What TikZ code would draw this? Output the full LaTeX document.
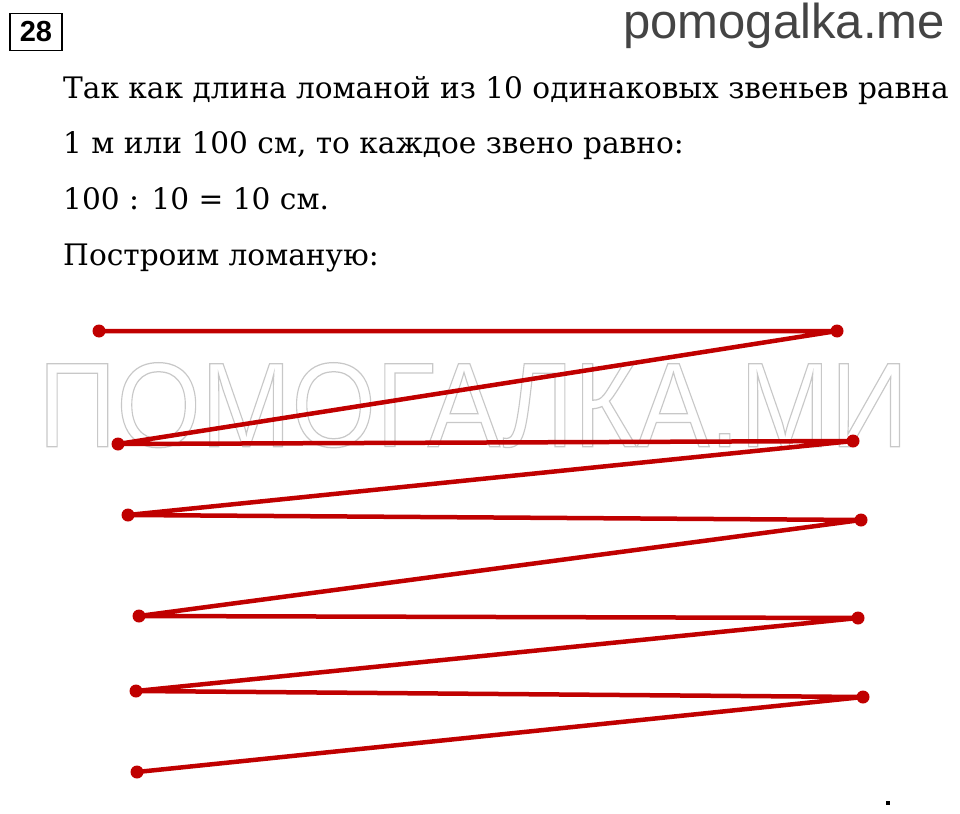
\documentclass[tikz,border=0pt]{standalone}
\usepackage{fontspec}
\usepackage{tikz}
\setmainfont{DejaVu Serif}
\newfontfamily\sitefont{Liberation Sans}
\newfontfamily\numfont{Liberation Sans}
\definecolor{linered}{RGB}{192,0,0}
\definecolor{sitegray}{RGB}{68,68,68}
\definecolor{wmgray}{RGB}{200,200,200}

\begin{document}
\begin{tikzpicture}[x=1pt,y=-1pt,
	txt/.style={anchor=base west, inner sep=0pt, font=\fontsize{29.6}{36}\selectfont},
	dotmark/.style={fill=linered},
	zigzag/.style={draw=linered, line width=4.5, line join=round}]
	%set diagram to 960 x 813
	\useasboundingbox (0,0) rectangle (960,813);
	
	%Box: task number
	\node [draw, line width=1.8, inner sep=2pt, minimum width=52, minimum height=37, font=\numfont\bfseries\fontsize{29}{32}\selectfont] (num) at (36,32) {28};
	% Text Node
	\node [anchor=base east, inner sep=0pt, text=sitegray, font=\sitefont\fontsize{49}{55}\selectfont] (site) at (945,39) {pomogalka.me};
	
	% Text Nodes
	\node [txt] (l1) at (63,99) {Так как длина ломаной из 10 одинаковых звеньев равна};
	\node [txt] (l2) at (63,154) {1 м или 100 см, то каждое звено равно:};
	\node [txt] (l3) at (63,209) {100 : 10 = 10 см.};
	\node [txt] (l4) at (63,265) {Построим ломаную:};
	
	%Watermark
	\node [anchor=south west, inner sep=0pt, text=wmgray, font=\sitefont\fontsize{116}{120}\selectfont] (wm) at (38,448) {\resizebox{870pt}{84pt}{\special{pdf:code 1 Tr 1.2 w}ПОМОГАЛКА.МИ\special{pdf:code 0 Tr}}};
	
	%Vertices of the broken line
	\coordinate (p1) at (99,331);
	\coordinate (p2) at (837,331);
	\coordinate (p3) at (118,444);
	\coordinate (p4) at (853,441);
	\coordinate (p5) at (128,515);
	\coordinate (p6) at (861,520);
	\coordinate (p7) at (139,616);
	\coordinate (p8) at (858,618);
	\coordinate (p9) at (136,691);
	\coordinate (p10) at (863,697);
	\coordinate (p11) at (137,772);
	
	%Broken line: 10 links
	\draw [zigzag] (p1) -- (p2) -- (p3) -- (p4) -- (p5) -- (p6) -- (p7) -- (p8) -- (p9) -- (p10) -- (p11);
	\foreach \p in {1,...,11}
		\fill [dotmark] (p\p) circle (6.5);
	
	%Stray dot
	\fill (886,801) rectangle (890,805);
\end{tikzpicture}
\end{document}
